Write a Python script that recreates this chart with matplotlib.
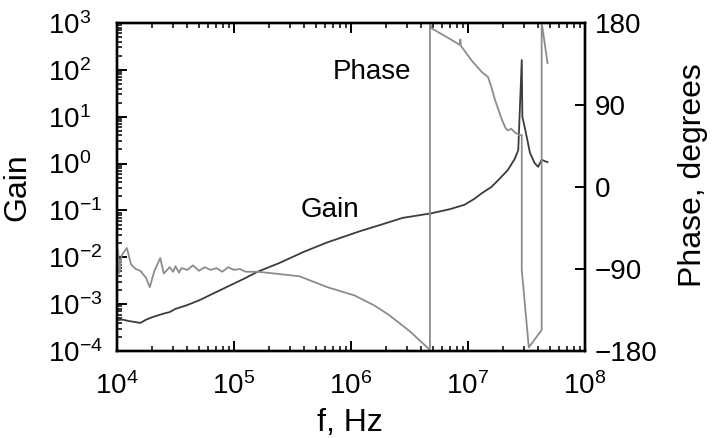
import numpy as np
import matplotlib
matplotlib.use('Agg')
import matplotlib.pyplot as plt
import matplotlib.ticker as ticker

# ── Data (frequencies as log10(f)) ───────────────────────────────────────────
gain_logf = [4.00, 4.05, 4.10, 4.15, 4.20, 4.25, 4.30, 4.35, 4.40, 4.45,
             4.50, 4.60, 4.71, 4.80, 4.90, 5.00, 5.10, 5.20, 5.39, 5.60,
             5.80, 6.08, 6.25, 6.44, 6.69, 6.85, 6.97, 7.05, 7.12, 7.20,
             7.26, 7.34, 7.40, 7.43, 7.46, 7.465, 7.49, 7.53, 7.57, 7.60,
             7.63, 7.68]
gain_log = [-3.34, -3.33, -3.36, -3.38, -3.40, -3.33, -3.28, -3.24, -3.20, -3.17,
            -3.10, -3.02, -2.91, -2.80, -2.68, -2.56, -2.44, -2.31, -2.12, -1.88,
            -1.68, -1.44, -1.31, -1.16, -1.06, -0.97, -0.88, -0.76, -0.63, -0.50,
            -0.35, -0.14, 0.10, 0.29, 2.21, 1.00, 0.72, 0.23, 0.01, -0.07,
            0.08, 0.03]

phase_logf = [4.00, 4.01, 4.02, 4.04, 4.085, 4.12, 4.16, 4.20, 4.25, 4.28,
              4.32, 4.37, 4.40, 4.45, 4.48, 4.50, 4.53, 4.55, 4.60, 4.65,
              4.70, 4.75, 4.80, 4.85, 4.90, 4.95, 5.00, 5.05, 5.10, 5.20,
              5.35, 5.56, 5.80, 6.03, 6.20, 6.32, 6.50, 6.66, 6.675,
              6.675, 6.69, 6.80, 6.93, 6.935, 6.94, 7.03, 7.12, 7.17, 7.20,
              7.23, 7.29, 7.32, 7.34, 7.37, 7.40, 7.44, 7.46,
              7.46, 7.47, 7.52, 7.63,
              7.63, 7.64, 7.68]
phase_deg = [-82, -70, -95, -75, -67, -85, -90, -92, -100, -110,
             -92, -78, -95, -88, -93, -87, -94, -89, -91, -86,
             -92, -88, -91, -89, -93, -88, -91, -90, -93, -93,
             -95, -98, -110, -119, -130, -140, -158, -177, -180,
             180, 174, 166, 156, 162, 155, 139, 126, 121, 110,
             96, 74, 65, 62, 64, 60, 57, 57,
             -91, -105, -176, -157,
             180, 172, 136]

x_ticks = [1e4, 1e5, 1e6, 1e7, 1e8]
phase_ticks = [-180, -90, 0, 90, 180]
phase_labels = ['\u2212180', '\u221290', '0', '90', '180']

GAIN_COLOR = '#3c3c3c'
PHASE_COLOR = '#8c8c8c'

plt.rcParams.update({
    'font.family': ['Liberation Sans', 'DejaVu Sans'],
    'font.size': 20,
    'axes.linewidth': 1.7,
    'xtick.direction': 'in',
    'ytick.direction': 'in',
    'xtick.major.size': 7,
    'ytick.major.size': 7,
    'xtick.minor.size': 3.5,
    'ytick.minor.size': 3.5,
    'xtick.major.width': 1.4,
    'ytick.major.width': 1.4,
    'xtick.minor.width': 1.1,
    'ytick.minor.width': 1.1,
})

fig = plt.figure(figsize=(7.15, 4.38), dpi=100)
ax = fig.add_axes([0.1636, 0.1986, 0.6545, 0.7489])

# gain (left, log-log)
ax.plot(10 ** np.array(gain_logf), 10 ** np.array(gain_log),
        color=GAIN_COLOR, linewidth=1.3, zorder=3)

ax.set_xscale('log')
ax.set_yscale('log')
ax.set_xlim(1e4, 1e8)
ax.set_ylim(1e-4, 1e3)
ax.set_xticks(x_ticks)
ax.yaxis.set_major_locator(ticker.LogLocator(base=10, numticks=12))
ax.yaxis.set_minor_locator(ticker.LogLocator(base=10, subs=np.arange(2, 10), numticks=12))
ax.xaxis.set_minor_locator(ticker.LogLocator(base=10, subs=np.arange(2, 10), numticks=12))
ax.yaxis.set_minor_formatter(ticker.NullFormatter())
ax.xaxis.set_minor_formatter(ticker.NullFormatter())
ax.tick_params(which='both', top=True, right=True)
ax.tick_params(axis='x', which='major', pad=15, labelsize=20)
ax.tick_params(axis='y', which='major', pad=50, labelsize=20)
plt.setp(ax.get_yticklabels(), ha='left')

ax.set_xlabel('f, Hz', fontsize=23, va='center')
ax.xaxis.set_label_coords(0.498, -0.218)
ax.set_ylabel('Gain', fontsize=23, va='center')
ax.yaxis.set_label_coords(-0.2137, 0.5)

ax.text(10 ** 6.18, 10 ** 1.95, 'Phase', fontsize=20, ha='center', va='center')
ax.text(10 ** 5.82, 10 ** -0.99, 'Gain', fontsize=20, ha='center', va='center')

# phase (right axis)
ax2 = ax.twinx()
ax2.plot(10 ** np.array(phase_logf), phase_deg, color=PHASE_COLOR, linewidth=1.3)
ax2.set_ylim(-180, 180)
ax2.set_yticks(phase_ticks)
ax2.set_yticklabels(phase_labels)
ax2.tick_params(axis='y', which='major', pad=7, labelsize=20)
ax2.set_ylabel('Phase, degrees', fontsize=23, va='center', rotation=90)
ax2.yaxis.set_label_coords(1.2308, 0.537)

fig.savefig('out.png', dpi=100, facecolor='white')
